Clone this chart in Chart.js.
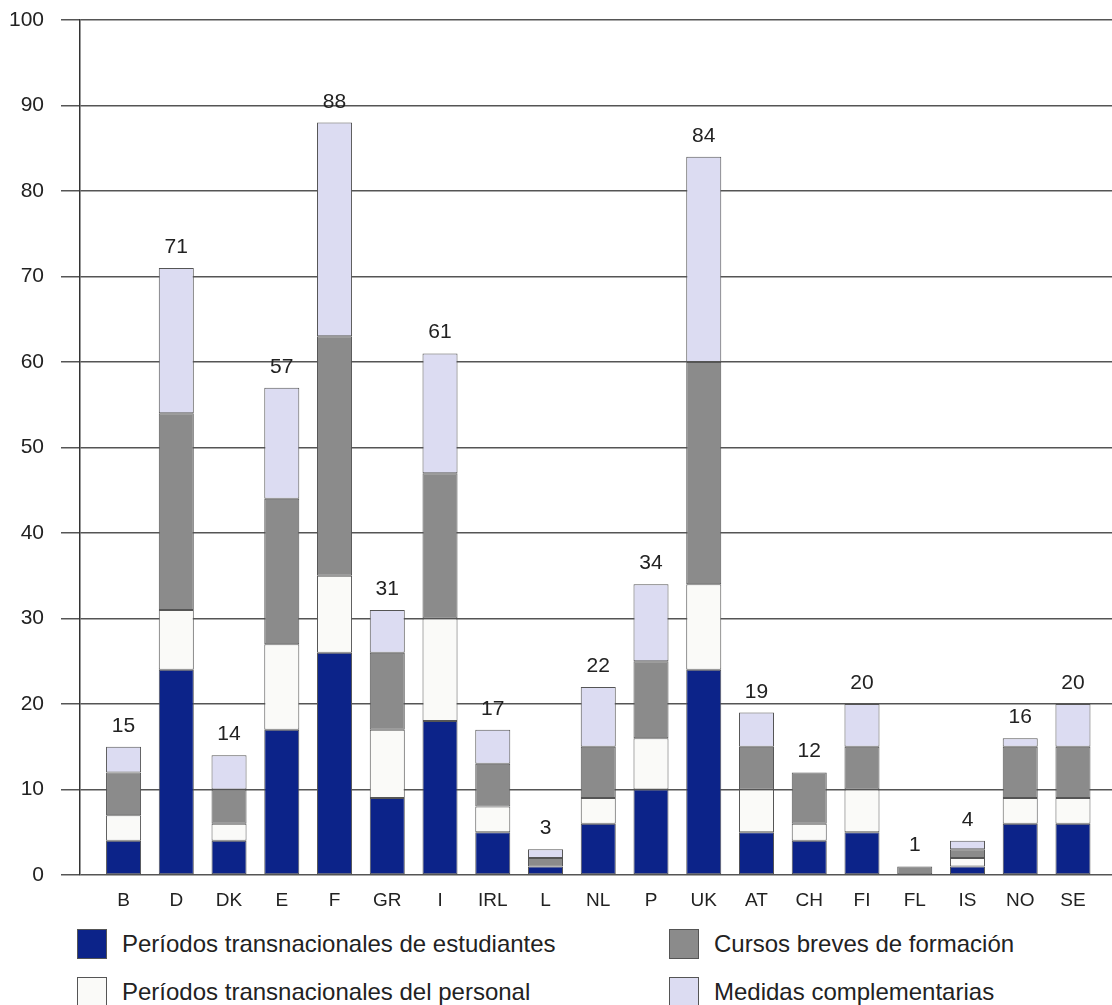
<!DOCTYPE html>
<html lang="es">
<head>
<meta charset="utf-8">
<script src="https://cdn.jsdelivr.net/npm/chart.js@4.4.1/dist/chart.umd.min.js"></script>
<style>
  html, body { margin:0; padding:0; background:#fff; }
  #wrap { position:relative; width:1112px; height:1005px; overflow:hidden; }
  #chart { position:absolute; left:0; top:0; }
  #legend {
    position:absolute; left:77px; top:929px;
    display:grid; grid-template-rows:30px 30px; grid-auto-flow:column;
    grid-template-columns:592px 400px; row-gap:18px;
    font-family:"Liberation Sans", Arial, sans-serif; font-size:24px; color:#222;
  }
  #legend .item { display:flex; align-items:center; }
  #legend .sw { width:30px; height:30px; box-sizing:border-box; border:1px solid #555; margin-right:15px; flex:none; }
</style>
</head>
<body>
<div id="wrap">
  <canvas id="chart" width="1112" height="915"></canvas>
  <div id="legend"></div>
</div>
<script>
// Countries along the x axis
const countries = ['B','D','DK','E','F','GR','I','IRL','L','NL','P','UK','AT','CH','FI','FL','IS','NO','SE'];

// Stacked series, bottom to top
const estudiantes = [4, 24, 4, 17, 26, 9, 18, 5, 1, 6, 10, 24, 5, 4, 5, 0, 1, 6, 6];
const personal    = [3,  7, 2, 10,  9, 8, 12, 3, 0, 3,  6, 10, 5, 2, 5, 0, 1, 3, 3];
const cursos      = [5, 23, 4, 17, 28, 9, 17, 5, 1, 6,  9, 26, 5, 6, 5, 1, 1, 6, 6];
const medidas     = [3, 17, 4, 13, 25, 5, 14, 4, 1, 7,  9, 24, 4, 0, 5, 0, 1, 1, 5];

const yTicks = [0,10,20,30,40,50,60,70,80,90,100];

const series = [
  { label:'Períodos transnacionales de estudiantes', data:estudiantes, color:'#0c2389' },
  { label:'Períodos transnacionales del personal',   data:personal,    color:'#fafaf8' },
  { label:'Cursos breves de formación',              data:cursos,      color:'#8b8b8b' },
  { label:'Medidas complementarias',                 data:medidas,     color:'#dcdcf2' },
];

const FONT = '"Liberation Sans", Arial, sans-serif';

// total written above each stack
const totalsPlugin = {
  id:'totals',
  afterDatasetsDraw(chart){
    const {ctx, scales:{x, y}} = chart;
    ctx.save();
    ctx.font = '21px ' + FONT;
    ctx.fillStyle = '#222';
    ctx.textAlign = 'center';
    ctx.textBaseline = 'alphabetic';
    countries.forEach((c, i) => {
      const total = series.reduce((s, d) => s + d.data[i], 0);
      ctx.fillText(String(total), x.getPixelForValue(i), y.getPixelForValue(total) - 15);
    });
    ctx.restore();
  }
};

new Chart(document.getElementById('chart'), {
  type:'bar',
  data:{
    datasets: series.map(s => ({
      label:s.label,
      data:s.data.map((v, i) => ({ x:i, y:v })),
      backgroundColor:s.color,
      borderColor:'#555',
      borderWidth:1,
      borderSkipped:false,
      barPercentage:0.664,
      categoryPercentage:1,
    }))
  },
  options:{
    responsive:false,
    animation:false,
    layout:{ padding:{ top:20, right:0, bottom:0, left:0 } },
    plugins:{ legend:{ display:false }, tooltip:{ enabled:false } },
    scales:{
      x:{
        type:'linear', stacked:true, offset:false,
        min:-0.8256, max:18.74,
        grid:{ display:false },
        border:{ display:false },
        afterBuildTicks(scale){ scale.ticks = countries.map((c, i) => ({ value:i })); },
        afterFit(scale){ scale.height = 40; scale.paddingLeft = 0; scale.paddingRight = 0; },
        ticks:{
          autoSkip:false, maxRotation:0, padding:6,
          color:'#222', font:{ family:FONT, size:19 },
          callback:(v) => countries[v] ?? ''
        }
      },
      y:{
        stacked:true, min:0, max:100,
        afterBuildTicks(scale){ scale.ticks = yTicks.map(v => ({ value:v })); },
        afterFit(scale){ scale.width = 80; scale.paddingTop = 0; scale.paddingBottom = 0; },
        grid:{ color:'#555', lineWidth:1.5, tickLength:19 },
        border:{ display:true, color:'#333', width:1.5 },
        ticks:{ padding:17, color:'#222', font:{ family:FONT, size:21 } }
      }
    }
  },
  plugins:[totalsPlugin]
});

// legend: two columns, two rows
document.getElementById('legend').innerHTML = series.map(s =>
  `<div class="item"><span class="sw" style="background:${s.color}"></span><span>${s.label}</span></div>`
).join('');
</script>
</body>
</html>
